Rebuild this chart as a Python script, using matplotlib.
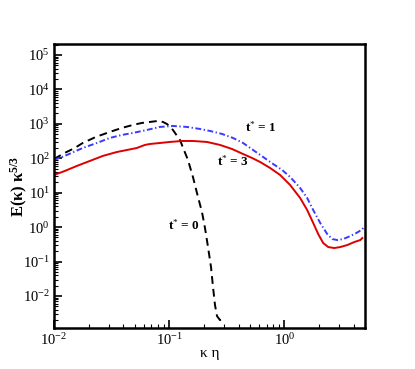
import numpy as np
import matplotlib
matplotlib.use("Agg")
import matplotlib.pyplot as plt
from matplotlib.ticker import FixedLocator, NullFormatter, LogFormatterSciNotation

plt.rcParams['font.family'] = ['Liberation Serif', 'DejaVu Serif']
plt.rcParams['mathtext.fontset'] = 'custom'
plt.rcParams['mathtext.rm'] = 'Liberation Serif'
plt.rcParams['mathtext.it'] = 'Liberation Serif:italic'
plt.rcParams['mathtext.bf'] = 'Liberation Serif:bold'

# t* = 0 (black dashed)
k0 = [0.0100, 0.01239, 0.01514, 0.01777, 0.02305, 0.0305, 0.03879, 0.04833, 0.05789,
      0.06795, 0.07974, 0.08814, 0.0955, 0.1077, 0.1239, 0.1454, 0.1607, 0.1777,
      0.1924, 0.2044, 0.2171, 0.2305, 0.2399, 0.2496, 0.2600, 0.2760, 0.2931]
e0 = [95.4, 143, 199, 278, 416, 582, 760, 929, 1062,
      1136, 1214, 1136, 993, 665, 340, 89.3, 28.6, 7.50,
      2.75, 0.942, 0.264, 0.0692, 0.01814, 0.00544, 0.00260, 0.00199, 0.00228]

# t* = 1 (blue dash-dot)
k1 = [0.0100, 0.01239, 0.01777, 0.02351, 0.0305, 0.03879, 0.04833, 0.06398, 0.0830,
      0.1077, 0.1425, 0.1849, 0.2259, 0.2872, 0.3580, 0.4375, 0.5343, 0.6528,
      0.7975, 0.955, 1.121, 1.369, 1.575, 1.777, 2.044, 2.351, 2.599,
      2.872, 3.239, 3.727, 4.203, 4.645, 4.833]
e1 = [89.3, 117, 199, 278, 389, 476, 544, 665, 813,
      869, 813, 711, 622, 509, 389, 278, 174, 109,
      68.3, 45.7, 28.6, 13.7, 7.01, 3.14, 1.316, 0.630, 0.451,
      0.422, 0.451, 0.551, 0.674, 0.823, 0.942]

# t* = 3 (red solid)
k3 = [0.0100, 0.01239, 0.01575, 0.02044, 0.02652, 0.03509, 0.04287, 0.05236, 0.06147,
      0.06795, 0.0830, 0.1014, 0.1290, 0.1607, 0.2128, 0.2760, 0.3509, 0.4375,
      0.5237, 0.6147, 0.7510, 0.9175, 1.121, 1.369, 1.575, 1.777, 1.963,
      2.170, 2.399, 2.705, 3.050, 3.509, 4.037, 4.553, 4.739]
e3 = [32.7, 42.7, 59.7, 83.5, 117, 152, 174, 199, 244,
      260, 278, 298, 318, 318, 298, 244, 186, 133,
      102, 78.1, 52.2, 32.7, 16.7, 7.01, 3.14, 1.316, 0.630,
      0.345, 0.264, 0.247, 0.264, 0.302, 0.369, 0.422, 0.482]

labels = ["t$^{*}$ = 0", "t$^{*}$ = 1", "t$^{*}$ = 3"]
label_pos = [(0.134, 1.15), (0.626, 812), (0.358, 83)]

x_major = [1e-2, 1e-1, 1e0]
y_major = [1e-2, 1e-1, 1e0, 1e1, 1e2, 1e3, 1e4, 1e5]
xlim = (0.01, 5.0)
ylim = (10**-2.93, 10**5.32)

fig = plt.figure(figsize=(4.15, 3.69), dpi=100)
ax = fig.add_axes([0.1301, 0.1111, 0.7494, 0.7697])

ax.plot(k0, e0, color='black', ls=(0, (4, 2.6)), lw=1.4)
ax.plot(k1, e1, color='#3a3aff', ls=(0, (3, 1.3, 0.7, 1.3)), lw=1.4)
ax.plot(k3, e3, color='#dd0000', ls='-', lw=1.4)

ax.set_xscale('log')
ax.set_yscale('log')
ax.set_xlim(*xlim)
ax.set_ylim(*ylim)

def minors(lo, hi):
    out = []
    for d in range(-4, 7):
        for s in range(2, 10):
            v = s * 10.0**d
            if lo <= v <= hi:
                out.append(v)
    return out

ax.xaxis.set_major_locator(FixedLocator(x_major))
ax.yaxis.set_major_locator(FixedLocator(y_major))
ax.xaxis.set_minor_locator(FixedLocator(minors(*xlim)))
ax.yaxis.set_minor_locator(FixedLocator(minors(*ylim)))
ax.xaxis.set_major_formatter(LogFormatterSciNotation())
ax.yaxis.set_major_formatter(LogFormatterSciNotation())
ax.xaxis.set_minor_formatter(NullFormatter())
ax.yaxis.set_minor_formatter(NullFormatter())

ax.tick_params(which='both', direction='in', top=False, right=False, labelsize=10.5, pad=3)
ax.tick_params(which='major', length=6, width=1.2)
ax.tick_params(which='minor', length=3, width=0.8)
for s in ax.spines.values():
    s.set_linewidth(1.8)

ax.set_xlabel("κ η", fontsize=11)
ax.set_ylabel(r"E(κ) κ$^{\mathbf{5/3}}$", fontsize=12, fontweight='bold')
ax.xaxis.set_label_coords(0.502, -0.067)
ax.yaxis.set_label_coords(-0.078, 0.5)

for txt, (x, y) in zip(labels, label_pos):
    ax.text(x, y, txt, fontsize=9.5, fontweight='bold', ha='center', va='center')

fig.savefig("out.png", dpi=100)
